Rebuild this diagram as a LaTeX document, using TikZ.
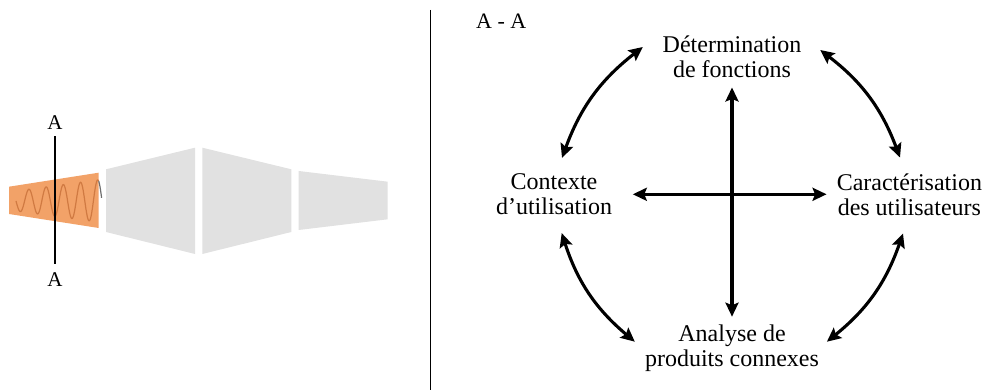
\documentclass[tikz,border=0pt]{standalone}
\usepackage{fontspec}
\setmainfont{Liberation Serif}
\usetikzlibrary{arrows.meta}
\definecolor{orangefill}{RGB}{242,162,104}
\definecolor{wavecol}{RGB}{208,122,66}
\definecolor{greyfill}{RGB}{225,225,225}
\definecolor{tailcol}{RGB}{110,110,110}
\begin{document}
\begin{tikzpicture}[x=1pt,y=1pt,
  lbl/.style={font=\fontsize{24}{25}\selectfont, align=center, inner sep=0pt},
  albl/.style={font=\fontsize{21}{25}\selectfont, inner sep=0pt},
  dblarrow/.style={line width=3.1pt, {Stealth[length=14pt,width=13pt,inset=2.5pt]}-{Stealth[length=14pt,width=13pt,inset=2.5pt]}},
  bendarrow/.style={dblarrow, bend left=16},
  sepline/.style={line width=1pt},
  cutline/.style={line width=1.4pt}
  ]
\useasboundingbox (0,0) rectangle (982,390);

% ---------- left: device ----------
\fill[orangefill] (9,203.3) -- (98.7,217.3) -- (98.7,162) -- (9,176) -- cycle;
\draw[wavecol, line width=1.2pt] plot[domain=16:98.7, samples=300]
  (\x, {189 - (10+0.135*(\x-16))*sin(20.9302*(\x-16))});
\draw[tailcol, line width=1.2pt] plot[domain=98.7:101.6, samples=30]
  (\x, {189 - (10+0.135*(\x-16))*sin(20.9302*(\x-16))});
\fill[greyfill] (106,220.7) -- (195,242.3) -- (195,136) -- (106,158) -- cycle;
\fill[greyfill] (202.3,242.3) -- (291.3,220.7) -- (291.3,158) -- (202.3,136) -- cycle;
\fill[greyfill] (298.7,219) -- (387.7,208.3) -- (387.7,170.7) -- (298.7,160) -- cycle;

\node[albl] (aTop) at (55,267) {A};
\node[albl] (aBot) at (55,110.7) {A};
\draw[cutline, shorten <=6pt, shorten >=8.3pt] (aTop) -- (aBot);

% ---------- separator ----------
\draw[sepline] (430,380) -- (430,0);

% ---------- right: cycle ----------
\node[albl, font=\fontsize{22}{25}\selectfont, anchor=base west] (title) at (476,361) {A - A};
\node[lbl] (top) at (732,333.4) {Détermination\\de fonctions};
\node[lbl] (left) at (554,195.7) {Contexte\\d’utilisation};
\node[lbl] (right) at (909.4,195.7) {Caractérisation\\des utilisateurs};
\node[lbl] (bottom) at (732,41.4) {Analyse de\\produits connexes};

\draw[dblarrow, shorten <=9.7pt, shorten >=8.3pt] (top) -- (bottom);
\draw[dblarrow, shorten <=20.6pt, shorten >=10pt] (left) -- (right);

\draw[bendarrow] ([shift={(8,15.6)}]left.north) to ([shift={(-19.7,9.6)}]top.west);
\draw[bendarrow] ([shift={(18.7,6.6)}]top.east) to ([shift={(-9.4,15.6)}]right.north);
\draw[bendarrow] ([shift={(-6.4,-18)}]right.south) to ([shift={(7.7,6.9)}]bottom.east);
\draw[bendarrow] ([shift={(-10,6.9)}]bottom.west) to ([shift={(7.7,-18)}]left.south);
\end{tikzpicture}
\end{document}
